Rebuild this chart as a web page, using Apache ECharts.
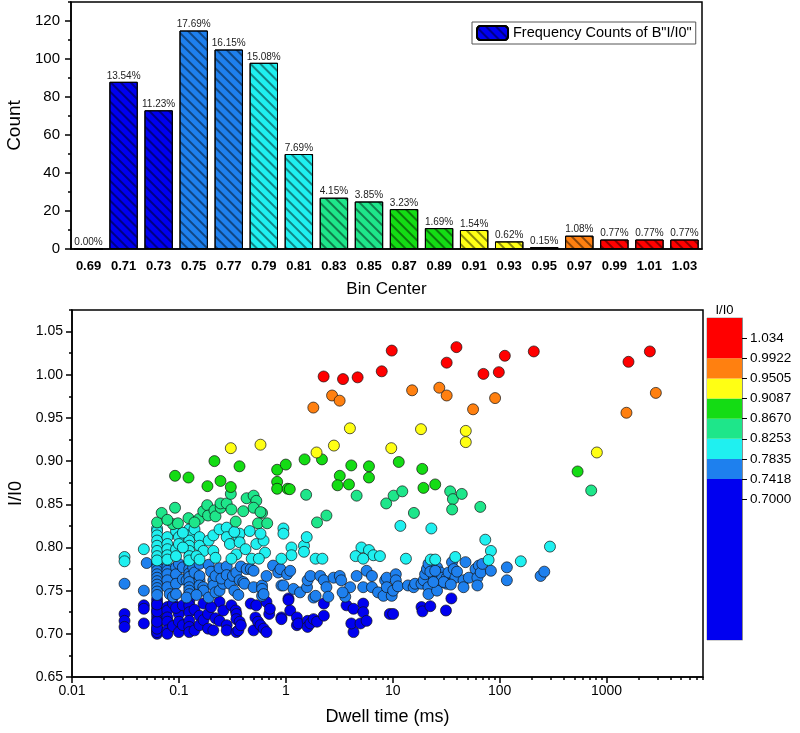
<!DOCTYPE html>
<html><head><meta charset="utf-8">
<script src="https://cdn.jsdelivr.net/npm/echarts@6/dist/echarts.min.js"></script>
<style>html,body{margin:0;padding:0;background:#fff}#c{width:800px;height:733px}</style>
</head><body><div id="c"></div>
<script>
// ---------- DATA ----------
const binCenters = ['0.69','0.71','0.73','0.75','0.77','0.79','0.81','0.83','0.85','0.87','0.89','0.91','0.93','0.95','0.97','0.99','1.01','1.03'];
const binCounts = [0,88,73,115,105,98,50,27,25,21,11,10,4,1,7,5,5,5];
const countTicks = [0,20,40,60,80,100,120];
const countMinorTicks = [10,30,50,70,90,110,130];
const dwellTicks = [0.01,0.1,1,10,100,1000];
const dwellTickLabels = ['0.01','0.1','1','10','100','1000'];
const ratioTicks = [0.65,0.70,0.75,0.80,0.85,0.90,0.95,1.00,1.05];
const ratioMinorTicks = [0.675,0.725,0.775,0.825,0.875,0.925,0.975,1.025,1.075];
const levelBounds = [0.7418,0.7835,0.8253,0.8670,0.9087,0.9505,0.9922];
const colorbarLabels = ['0.7000','0.7418','0.7835','0.8253','0.8670','0.9087','0.9505','0.9922','1.034'];

const ptsRed = [[2.26,0.998],[3.43,0.995],[4.7,0.997],[7.9,1.004],[9.8,1.028],[32,1.014],[39.5,1.032],[70.6,1.001],[98.4,1.003],[112,1.022],[209,1.027],[1607,1.015],[2547,1.027]];
const ptsOrange = [[1.81,0.962],[2.71,0.976],[3.19,0.970],[15.2,0.982],[27.3,0.985],[32,0.976],[56.5,0.960],[90.8,0.973],[1538,0.956],[2897,0.979]];
const ptsYellow = [[0.306,0.915],[0.58,0.919],[1.94,0.910],[2.82,0.918],[3.98,0.938],[9.7,0.915],[18.4,0.937],[48.3,0.935],[48.3,0.922],[813,0.910]];
const ptsGreen = [[0.092,0.883],[0.123,0.881],[0.215,0.900],[0.369,0.894],[0.185,0.871],[0.245,0.877],[0.306,0.870],[0.83,0.890],[1.0,0.896],[0.83,0.876],[0.83,0.868],[1.04,0.868],[1.09,0.8675],[1.5,0.902],[2.18,0.902],[3.2,0.883],[3.05,0.872],[3.9,0.873],[4.1,0.895],[6.0,0.894],[6.0,0.881],[11.4,0.899],[18.9,0.891],[19.4,0.869],[25,0.873],[537,0.888]];
const ptsTeal = [[0.0625,0.829],[0.069,0.840],[0.092,0.846],[0.088,0.827],[0.098,0.828],[0.123,0.834],[0.154,0.833],[0.169,0.842],[0.184,0.849],[0.1875,0.837],[0.215,0.843],[0.22,0.836],[0.246,0.846],[0.245,0.851],[0.28,0.851],[0.31,0.844],[0.306,0.862],[0.40,0.842],[0.43,0.857],[0.50,0.860],[0.53,0.854],[0.50,0.846],[0.60,0.840],[0.58,0.841],[0.55,0.828],[0.67,0.828],[1.96,0.829],[2.4,0.837],[1.55,0.861],[4.6,0.860],[8.7,0.851],[10.2,0.860],[12.3,0.865],[15.8,0.840],[34.5,0.865],[36.6,0.856],[36,0.844],[44.3,0.862],[66,0.847],[720,0.866],[0.078,0.832],[0.14,0.829],[0.34,0.830]];
const ptsCyan = [[0.031,0.789],[0.031,0.784],[0.047,0.798],
 [0.0625,0.822],[0.0625,0.819],[0.0625,0.814],[0.0625,0.808],[0.0625,0.802],[0.0625,0.796],[0.0625,0.790],[0.0625,0.785],
 [0.078,0.812],[0.078,0.804],[0.078,0.798],[0.078,0.791],[0.078,0.786],
 [0.094,0.819],[0.094,0.798],[0.094,0.790],[0.1,0.812],[0.1,0.804],
 [0.125,0.821],[0.125,0.814],[0.125,0.808],[0.125,0.802],[0.125,0.796],[0.125,0.790],[0.125,0.785],[0.109,0.817],[0.109,0.800],
 [0.14,0.821],[0.156,0.812],[0.156,0.802],[0.17,0.796],[0.146,0.790],[0.156,0.786],
 [0.19,0.808],[0.21,0.814],[0.21,0.796],[0.24,0.821],[0.28,0.823],[0.28,0.812],[0.22,0.788],
 [0.30,0.804],[0.345,0.792],[0.36,0.812],[0.37,0.816],[0.37,0.806],[0.33,0.818],[0.31,0.787],
 [0.46,0.819],[0.53,0.804],[0.62,0.808],[0.64,0.794],[0.48,0.787],[0.56,0.787],[0.42,0.798],[0.58,0.816],
 [0.95,0.822],[0.95,0.816],[1.13,0.800],[1.13,0.791],[0.91,0.787],[1.48,0.802],[1.48,0.795],[1.57,0.812],
 [1.9,0.787],[2.2,0.787],[5.1,0.800],[6.0,0.797],[6.6,0.791],[4.5,0.790],[5.3,0.787],[7.6,0.790],
 [11.8,0.825],[23,0.822],[13.3,0.787],[22.7,0.786],[25,0.786],[38.5,0.789],[73.5,0.809],[83,0.796],[79,0.7855],[158,0.784],[296,0.801]];
const ptsMidBlue = [[0.031,0.758],[0.047,0.750],[0.05,0.782],
 [0.0625,0.781],[0.0625,0.777],[0.0625,0.773],[0.0625,0.769],[0.0625,0.765],[0.0625,0.761],[0.0625,0.757],[0.0625,0.753],[0.0625,0.749],[0.0625,0.745],
 [0.078,0.777],[0.078,0.773],[0.078,0.769],[0.078,0.762],[0.078,0.754],[0.082,0.746],[0.088,0.743],
 [0.094,0.777],[0.094,0.769],[0.094,0.758],[0.094,0.746],[0.1,0.781],[0.109,0.777],[0.109,0.763],
 [0.118,0.762],[0.125,0.783],[0.125,0.775],[0.125,0.770],[0.125,0.766],[0.125,0.760],[0.125,0.754],[0.125,0.750],[0.125,0.746],[0.118,0.742],
 [0.136,0.777],[0.14,0.771],[0.156,0.781],[0.156,0.762],[0.156,0.767],[0.156,0.756],[0.169,0.754],[0.17,0.750],[0.146,0.745],
 [0.19,0.742],[0.19,0.780],[0.2,0.772],[0.21,0.762],[0.21,0.756],[0.22,0.767],[0.22,0.748],[0.24,0.776],[0.24,0.750],[0.26,0.758],[0.25,0.764],
 [0.28,0.778],[0.28,0.768],[0.3,0.758],[0.32,0.767],[0.33,0.750],[0.345,0.771],[0.37,0.762],[0.36,0.745],[0.40,0.760],[0.41,0.758],[0.38,0.778],
 [0.43,0.775],[0.47,0.775],[0.5,0.773],[0.5,0.754],[0.6,0.756],[0.6,0.752],[0.6,0.744],[0.62,0.746],[0.66,0.767],
 [0.76,0.779],[0.85,0.771],[0.89,0.775],[0.91,0.756],[0.95,0.756],[1.03,0.769],[1.1,0.773],[1.18,0.752],[1.36,0.748],
 [1.58,0.754],[1.6,0.762],[1.7,0.767],[1.82,0.742],[1.9,0.744],[2.1,0.767],[2.27,0.762],[2.4,0.754],[2.5,0.743],
 [2.8,0.765],[3.2,0.767],[3.3,0.762],[3.6,0.743],[4.0,0.754],[4.6,0.767],[5.3,0.754],[5.7,0.773],[6.4,0.767],[6.4,0.754],[7.3,0.748],[8.5,0.762],[8.8,0.746],[3.4,0.748],
 [8.2,0.744],[8.8,0.765],[8.8,0.754],[9.8,0.744],[10.1,0.750],[10.7,0.769],[10.7,0.762],[11.2,0.755],[13.9,0.756],[15.7,0.754],[16.2,0.758],[18.6,0.758],[19.5,0.762],[20.1,0.769],[20.9,0.775],[21.6,0.781],[24.2,0.767],[26,0.777],[27,0.769],[27,0.758],[28,0.771],[29,0.765],[21.6,0.754],[21.6,0.746],[26,0.750],[32,0.765],[32,0.758],[33.3,0.771],[35.9,0.783],[37.2,0.775],[38.6,0.765],
 [22.5,0.772],[25,0.773],[30,0.760],[24,0.760],[35,0.757],[40,0.772],
 [46,0.762],[48,0.783],[46,0.754],[51.6,0.765],[59.5,0.775],[62,0.765],[64,0.779],[66.6,0.771],[69,0.781],[62,0.756],[83,0.773],[117,0.777],[117,0.762],[242,0.767],[262,0.772]];
const ptsBlue = [[0.031,0.723],[0.031,0.715],[0.031,0.708],[0.047,0.733],[0.047,0.729],[0.047,0.712],
 [0.0625,0.740],[0.0625,0.736],[0.0625,0.732],[0.0625,0.728],[0.0625,0.724],[0.0625,0.720],[0.0625,0.716],[0.0625,0.712],[0.0625,0.708],[0.0625,0.704],[0.0625,0.700],[0.0625,0.702],[0.0625,0.706],[0.0625,0.714],[0.0625,0.726],[0.0625,0.734],
 [0.078,0.731],[0.078,0.727],[0.078,0.719],[0.078,0.714],[0.078,0.704],[0.078,0.700],[0.088,0.735],[0.088,0.709],[0.1,0.723],[0.1,0.714],[0.1,0.702],[0.094,0.730],
 [0.109,0.733],[0.109,0.710],[0.125,0.738],[0.125,0.733],[0.125,0.725],[0.125,0.715],[0.125,0.708],[0.125,0.702],
 [0.14,0.728],[0.14,0.704],[0.156,0.721],[0.156,0.710],[0.17,0.735],[0.17,0.716],
 [0.1875,0.723],[0.1875,0.706],[0.21,0.704],[0.22,0.718],[0.24,0.737],[0.24,0.715],[0.26,0.727],[0.28,0.710],[0.28,0.704],[0.2,0.731],
 [0.31,0.733],[0.34,0.727],[0.345,0.723],[0.345,0.717],[0.345,0.702],[0.36,0.704],[0.37,0.714],[0.38,0.710],
 [0.47,0.735],[0.5,0.704],[0.53,0.733],[0.52,0.719],[0.55,0.714],[0.58,0.710],[0.62,0.706],[0.66,0.702],[0.66,0.737],[0.7,0.723],[0.71,0.729],
 [0.91,0.719],[0.91,0.717],[1.06,0.741],[1.06,0.739],[1.1,0.727],[1.27,0.719],[1.27,0.710],[1.31,0.712],[1.6,0.715],[1.6,0.708],[1.7,0.712],[1.82,0.717],[1.96,0.714],[2.27,0.721],[2.27,0.735],
 [3.7,0.733],[4.3,0.729],[4.3,0.702],[4.1,0.712],[5.0,0.712],[5.3,0.735],[5.3,0.725],[5.7,0.715],[9.4,0.723],
 [10.1,0.723],[18.6,0.731],[19,0.726],[22.5,0.732],[31.5,0.727],[35.4,0.741]];

// ---------- STYLE ----------
const levelColors = ['#0000f0','#1e80ee','#1ff0f0','#1ee68a','#14dc14','#ffff14','#ff8010','#ff0000'];
const barColorIdx = [0,0,0,1,1,2,2,3,3,4,4,5,5,6,6,7,7,7];
const FONT = 'Liberation Sans';
const hatch = {symbol:'rect', symbolSize:1, dashArrayX:[1,0], dashArrayY:[1.3,5], rotation:Math.PI/4, color:'rgba(0,0,0,0.45)'};
const axisLineStyle = {color:'#000', width:1.5};

const total = binCounts.reduce((a,b)=>a+b,0);
const scatterData = [].concat(ptsBlue, ptsMidBlue, ptsCyan, ptsTeal, ptsGreen, ptsYellow, ptsOrange, ptsRed);

const pieces = [];
for (let i = 0; i <= levelBounds.length; i++) {
  const p = {color: levelColors[i]};
  if (i > 0) p.gte = levelBounds[i-1];
  if (i < levelBounds.length) p.lt = levelBounds[i];
  pieces.push(p);
}
const cbMin = -7, cbMax = 9;
const cbBands = levelColors.map((c,i)=>[i===0?cbMin:i, i===levelColors.length-1?cbMax:i+1, i]);
const cbTickVals = colorbarLabels.map((s,i)=>i);

const chart = echarts.init(document.getElementById('c'), null, {renderer:'canvas'});
chart.setOption({
  animation:false,
  backgroundColor:'#fff',
  textStyle:{fontFamily:FONT, color:'#000'},
  grid:[
    {left:71, top:2, width:631, height:247, show:true, borderColor:'#000', borderWidth:1.5, outerBoundsMode:'none'},
    {left:72, top:310, width:631, height:367, show:true, borderColor:'#000', borderWidth:1.5, outerBoundsMode:'none'},
    {left:707, top:318, width:35, height:322, show:true, borderColor:'#444', borderWidth:0.5, outerBoundsMode:'none'}
  ],
  legend:{
    data:['Frequency Counts of B"I/I0"'], left:472, top:22, orient:'horizontal',
    itemWidth:31, itemHeight:14, itemGap:4, padding:[3,4,3,4],
    borderColor:'#555', borderWidth:1, backgroundColor:'#fff',
    textStyle:{fontFamily:FONT, fontSize:14.5, color:'#000'}
  },
  visualMap:{type:'piecewise', show:false, seriesIndex:1, dimension:1, pieces:pieces},
  xAxis:[
    {gridIndex:0, type:'category', data:binCenters,
     axisLine:{lineStyle:axisLineStyle}, axisTick:{alignWithLabel:true, length:6, inside:false, lineStyle:axisLineStyle},
     axisLabel:{interval:0, fontWeight:'bold', fontSize:13, margin:11, color:'#000', fontFamily:FONT},
     name:'Bin Center', nameLocation:'middle', nameGap:32, nameTextStyle:{fontSize:17, color:'#000', fontFamily:FONT}},
    {gridIndex:1, type:'log', logBase:10, min:0.01, max:8000,
     axisLine:{lineStyle:axisLineStyle}, splitLine:{show:false},
     axisTick:{customValues:dwellTicks, length:6, lineStyle:axisLineStyle},
     axisLabel:{customValues:dwellTicks, fontSize:14, margin:7, color:'#000', fontFamily:FONT,
       formatter:v=>dwellTickLabels[Math.round(Math.log10(v))+2]},
     name:'Dwell time (ms)', nameLocation:'middle', nameGap:31, nameTextStyle:{fontSize:18, color:'#000', fontFamily:FONT}},
    {gridIndex:1, type:'log', logBase:10, min:0.01, max:8000, position:'bottom',
     axisLine:{show:false}, splitLine:{show:false}, axisLabel:{show:false},
     axisTick:{customValues:(function(){const a=[];for(let k=-2;k<=3;k++)for(let m=2;m<=9;m++){const v=m*Math.pow(10,k);if(v<=8000)a.push(+v.toPrecision(3));}return a;})(), length:3, lineStyle:axisLineStyle}},
    {gridIndex:2, type:'value', min:0, max:1, show:false}
  ],
  yAxis:[
    {gridIndex:0, type:'value', min:0, max:130, splitLine:{show:false},
     axisLine:{show:true, lineStyle:axisLineStyle},
     axisTick:{show:true, customValues:countTicks, length:6, lineStyle:axisLineStyle},
     axisLabel:{customValues:countTicks, fontSize:15, margin:11, color:'#000', fontFamily:FONT},
     name:'Count', nameLocation:'middle', nameGap:40, nameTextStyle:{fontSize:19, color:'#000', fontFamily:FONT}},
    {gridIndex:0, type:'value', min:0, max:130, position:'left', splitLine:{show:false},
     axisLine:{show:false}, axisLabel:{show:false},
     axisTick:{show:true, customValues:countMinorTicks, length:3, lineStyle:axisLineStyle}},
    {gridIndex:1, type:'value', min:0.65, max:1.075, splitLine:{show:false},
     axisLine:{show:true, lineStyle:axisLineStyle},
     axisTick:{show:true, customValues:ratioTicks, length:6, lineStyle:axisLineStyle},
     axisLabel:{customValues:ratioTicks, fontSize:14, margin:9, color:'#000', fontFamily:FONT, formatter:v=>v.toFixed(2)},
     name:'I/I0', nameLocation:'middle', nameGap:37, nameTextStyle:{fontSize:18, color:'#000', fontFamily:FONT}},
    {gridIndex:1, type:'value', min:0.65, max:1.075, position:'left', splitLine:{show:false},
     axisLine:{show:false}, axisLabel:{show:false},
     axisTick:{show:true, customValues:ratioMinorTicks, length:3, lineStyle:axisLineStyle}},
    {gridIndex:2, type:'value', min:cbMin, max:cbMax, position:'right', z:10, splitLine:{show:false},
     axisLine:{show:true, onZero:false, lineStyle:{color:'#444', width:0.5}},
     axisTick:{show:true, inside:false, customValues:cbTickVals, length:5, lineStyle:{color:'#000', width:1}},
     axisLabel:{customValues:cbTickVals, fontSize:13.5, margin:8, color:'#000', fontFamily:FONT,
       formatter:v=>colorbarLabels[Math.round(v)] || ''}}
  ],
  graphic:[{type:'text', x:724.5, y:310, style:{text:'I/I0', fontFamily:FONT, fontSize:13, fill:'#000', textAlign:'center', textVerticalAlign:'middle'}}],
  series:[
    {type:'bar', name:'Frequency Counts of B"I/I0"', xAxisIndex:0, yAxisIndex:0, barCategoryGap:'19%',
     itemStyle:{color:levelColors[0], borderColor:'#000', borderWidth:1, decal:hatch},
     data:binCounts.map((v,i)=>({value:v, itemStyle:{color:levelColors[barColorIdx[i]], borderColor:'#000', borderWidth:1, decal:hatch}})),
     label:{show:true, position:'top', distance:1, fontSize:10, color:'#222', fontFamily:FONT,
       formatter:p=>(p.value/total*100).toFixed(2)+'%'}},
    {type:'scatter', xAxisIndex:1, yAxisIndex:2, symbol:'circle', symbolSize:11,
     itemStyle:{borderColor:'#111', borderWidth:0.7, opacity:1}, data:scatterData},
    {type:'custom', xAxisIndex:3, yAxisIndex:4, z:1, data:cbBands,
     renderItem:(params, api)=>{
       const lo=api.value(0), hi=api.value(1), ci=api.value(2);
       const p0=api.coord([0,hi]), p1=api.coord([1,lo]);
       return {type:'rect', shape:{x:p0[0], y:p0[1], width:p1[0]-p0[0], height:p1[1]-p0[1]}, style:{fill:levelColors[ci]}};
     }}
  ]
});
</script></body></html>
